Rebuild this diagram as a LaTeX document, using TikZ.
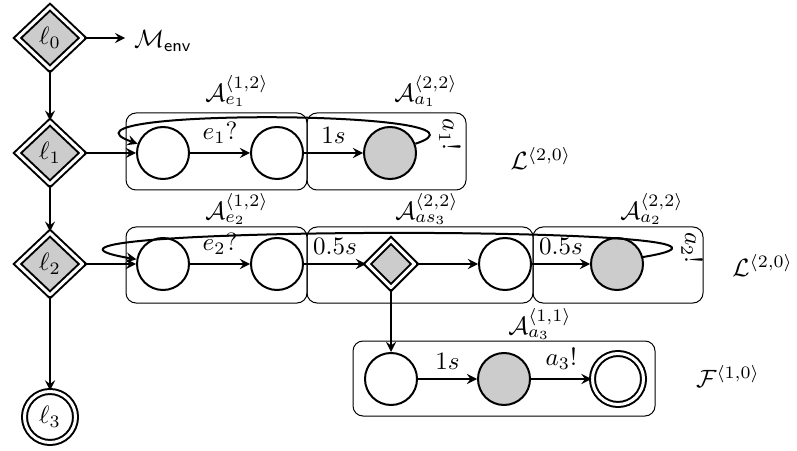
\documentclass[tikz,border=0pt]{standalone}
\usetikzlibrary{shapes.geometric}
\begin{document}
\begin{tikzpicture}[
  x=0.4pt, y=-0.4pt, >=stealth,
  autloc/.style = {diamond, draw, thick, double, double distance=1.2pt, fill=gray!40, minimum width=26.4pt, minimum height=25pt, inner sep=0pt},
  autsel/.style = {diamond, draw, thick, double, double distance=1.2pt, fill=gray!40, minimum size=19.2pt, inner sep=0pt},
  autstate/.style = {circle, draw, thick, minimum size=20.8pt, inner sep=0pt},
  autact/.style = {autstate, fill=gray!40},
  autfin/.style = {autstate, double, double distance=1.2pt, minimum size=20.4pt},
  autedge/.style = {thick, ->},
  autbox/.style = {rounded corners=4pt},
  autloop/.style = {pos=0.1, rotate=-90, anchor=south}
]
  \useasboundingbox (0,0) rectangle (797,451);
  % locations
  \node[autloc] (l0) at (50,38) {$\ell_0$};
  \node[autloc] (l1) at (50,153) {$\ell_1$};
  \node[autloc] (l2) at (50,264) {$\ell_2$};
  \node[autfin] (l3) at (50,417) {$\ell_3$};
  \node (menv) at (163,41) {$\mathcal{M}_{\mathsf{env}}$};
  % first line of automata
  \draw[autbox] (126,113) rectangle (307,190);
  \draw[autbox] (307,113) rectangle (466,190);
  \node[autstate] (c11) at (163,153) {};
  \node[autstate] (c12) at (277,153) {};
  \node[autact] (c13) at (390,153) {};
  % second line
  \draw[autbox] (126,227) rectangle (307,303);
  \draw[autbox] (307,227) rectangle (533,303);
  \draw[autbox] (533,227) rectangle (703,303);
  \node[autstate] (c21) at (163,264) {};
  \node[autstate] (c22) at (277,264) {};
  \node[autsel] (d23) at (391,264) {};
  \node[autstate] (c24) at (505,264) {};
  \node[autact] (c25) at (617,264) {};
  % branch below
  \draw[autbox] (353,341) rectangle (655,416);
  \node[autstate] (c31) at (391,379) {};
  \node[autact] (c32) at (504,379) {};
  \node[autfin] (c33) at (618,379) {};
  % names of the parts
  \node (ae1) at (237,91) {$\mathcal{A}_{e_1}^{\langle 1,2\rangle}$};
  \node (aa1) at (426,91) {$\mathcal{A}_{a_1}^{\langle 2,2\rangle}$};
  \node (lr1) at (541,158) {$\mathcal{L}^{\langle 2,0\rangle}$};
  \node (ae2) at (237,209) {$\mathcal{A}_{e_2}^{\langle 1,2\rangle}$};
  \node (aas3) at (427,209) {$\mathcal{A}_{as_3}^{\langle 2,2\rangle}$};
  \node (aa2) at (652,209) {$\mathcal{A}_{a_2}^{\langle 2,2\rangle}$};
  \node[inner sep=1pt, anchor=east] (lr2) at (796,265) {$\mathcal{L}^{\langle 2,0\rangle}$};
  \node (aa3) at (540,324) {$\mathcal{A}_{a_3}^{\langle 1,1\rangle}$};
  \node (fr3) at (728,376) {$\mathcal{F}^{\langle 1,0\rangle}$};
  % edges
  \draw[autedge] (l0.east) -- (l0.east -| menv.west);
  \draw[autedge] (l0) -- (l1);
  \draw[autedge] (l1) -- (l2);
  \draw[autedge] (l2) -- (l3);
  \draw[autedge] (l1) -- (c11);
  \draw[autedge] (l2) -- (c21);
  \draw[autedge] (c11) -- node[above] (te1) {$e_1?$} (c12);
  \draw[autedge] (c12) -- node[above] (t1s) {$1s$} (c13);
  \draw[autedge] (c13.20) .. controls +(103,-34) and +(-103,-36) .. (c11.160)
    node[autloop] (ta1) {$a_1!$};
  \draw[autedge] (c21) -- node[above] (te2) {$e_2?$} (c22);
  \draw[autedge] (c22) -- node[above] (t05a) {$0.5s$} (d23);
  \draw[autedge] (d23) -- (c24);
  \draw[autedge] (c24) -- node[above] (t05b) {$0.5s$} (c25);
  \draw[autedge] (c25.15) .. controls +(200,-33) and +(-200,-34) .. (c21.170)
    node[autloop] (ta2) {$a_2!$};
  \draw[autedge] (d23) -- (c31);
  \draw[autedge] (c31) -- node[above] (t1s3) {$1s$} (c32);
  \draw[autedge] (c32) -- node[above] (ta3) {$a_3!$} (c33);
\end{tikzpicture}
\end{document}
